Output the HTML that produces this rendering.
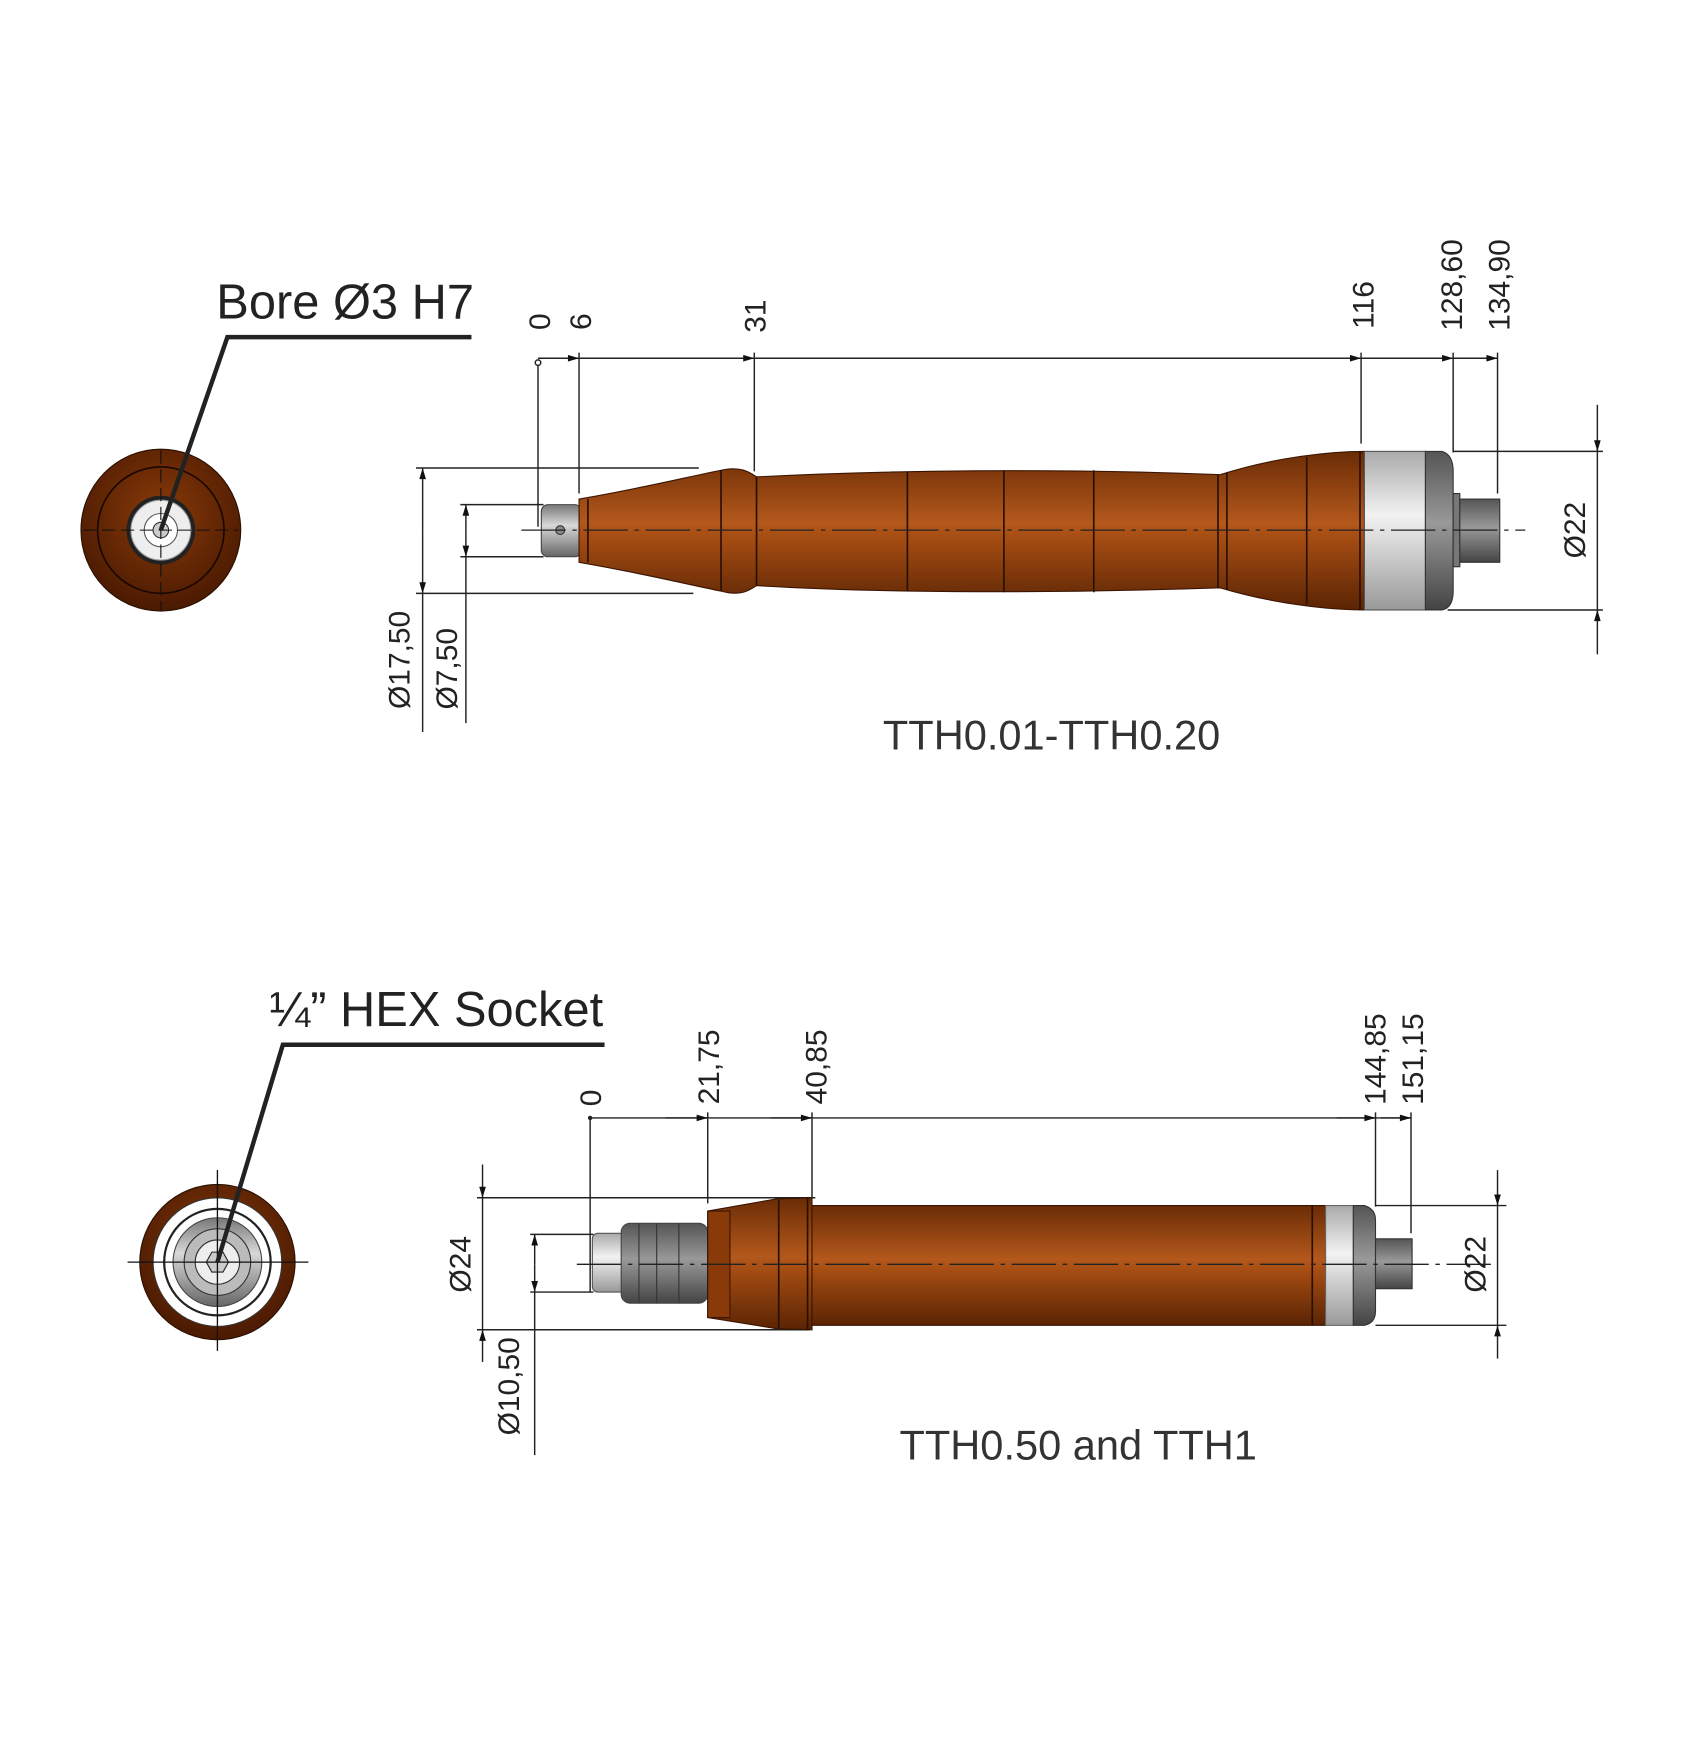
<!DOCTYPE html>
<html><head><meta charset="utf-8"><style>html,body{margin:0;padding:0;background:#fff;}svg{display:block}</style></head>
<body>
<svg width="1685" height="1739" viewBox="0 0 1519 1568" preserveAspectRatio="none" xmlns="http://www.w3.org/2000/svg" font-family="Liberation Sans, sans-serif">
<defs>
<linearGradient id="br" x1="0" y1="0" x2="0" y2="1">
<stop offset="0" stop-color="#6a2c05"/><stop offset="0.45" stop-color="#b4581c"/><stop offset="0.55" stop-color="#a44c12"/><stop offset="1" stop-color="#5a2404"/></linearGradient>
<linearGradient id="gr" x1="0" y1="0" x2="0" y2="1">
<stop offset="0" stop-color="#777"/><stop offset="0.4" stop-color="#d8d8d8"/><stop offset="1" stop-color="#666"/></linearGradient>
<linearGradient id="sv" x1="0" y1="0" x2="0" y2="1">
<stop offset="0" stop-color="#aaa"/><stop offset="0.4" stop-color="#f2f2f2"/><stop offset="1" stop-color="#999"/></linearGradient>
<linearGradient id="dg" x1="0" y1="0" x2="0" y2="1">
<stop offset="0" stop-color="#555"/><stop offset="0.45" stop-color="#999"/><stop offset="1" stop-color="#444"/></linearGradient>
<radialGradient id="rb" cx="0.5" cy="0.4" r="0.6"><stop offset="0" stop-color="#8a3a08"/><stop offset="1" stop-color="#4a1a02"/></radialGradient>
<marker id="a" viewBox="0 0 10 6" refX="10" refY="3" markerWidth="14" markerHeight="6" markerUnits="userSpaceOnUse" orient="auto"><path d="M0,0L10,3L0,6z" fill="#111"/></marker>
</defs>
<g stroke="#222" stroke-width="1.3" fill="none">
<line x1="485" y1="323" x2="1350" y2="323"/>
<line x1="485" y1="323" x2="522" y2="323" marker-end="url(#a)"/>
<line x1="640" y1="323" x2="680" y2="323" marker-end="url(#a)"/>
<line x1="1190" y1="323" x2="1227" y2="323" marker-end="url(#a)"/>
<line x1="1275" y1="323" x2="1310" y2="323" marker-end="url(#a)"/>
<line x1="1320" y1="323" x2="1350" y2="323" marker-end="url(#a)"/>
<path d="M485 325V475M522 318V445M680 318V425M1227 318V400M1310 318V408M1350 318V445"/>
<circle cx="485" cy="327" r="2.5" fill="#fff"/>
<path d="M1310 407H1445M1305 550H1445M375 422H630M375 535H625M415 455H490M415 502H490"/>
<line x1="1440" y1="365" x2="1440" y2="407" marker-end="url(#a)"/>
<line x1="1440" y1="407" x2="1440" y2="550"/>
<line x1="1440" y1="590" x2="1440" y2="550" marker-end="url(#a)"/>
<line x1="381" y1="478" x2="381" y2="422" marker-end="url(#a)"/>
<line x1="381" y1="478" x2="381" y2="535" marker-end="url(#a)"/>
<line x1="381" y1="535" x2="381" y2="660"/>
<line x1="420" y1="478" x2="420" y2="455" marker-end="url(#a)"/>
<line x1="420" y1="478" x2="420" y2="502" marker-end="url(#a)"/>
<line x1="420" y1="502" x2="420" y2="652"/>
</g>
<rect x="488" y="455" width="36" height="47" rx="6" fill="url(#gr)" stroke="#444"/>
<circle cx="505" cy="478" r="4" fill="#888" stroke="#333"/>
<path d="M522 450 C580 440 620 430 650 424 C668 420 676 426 682 430 C800 424 950 422 1100 428 C1150 412 1200 407 1230 407 L1230 550 C1200 550 1150 545 1100 530 C950 535 800 535 682 528 C676 532 668 538 650 533 C620 527 580 517 522 507 Z" fill="url(#br)" stroke="#3a1502"/>
<path d="M530 450V507M650 424V533M682 430V528M818 425V533M905 424V534M986 424V534M1098 428V530M1106 426V532M1178 412V545M1226 407V550" stroke="#2a1000" stroke-width="1.5"/>
<rect x="1230" y="407" width="55" height="143" fill="url(#sv)" stroke="#555"/>
<path d="M1285 407H1300Q1310 410 1310 425V533Q1310 548 1300 550H1285Z" fill="url(#dg)" stroke="#333"/>
<rect x="1310" y="445" width="6" height="66" fill="#777" stroke="#333"/>
<rect x="1316" y="450" width="36" height="57" fill="url(#dg)" stroke="#333"/>
<line x1="470" y1="478" x2="1375" y2="478" stroke="#222" stroke-width="1.2" stroke-dasharray="40,6,4,6"/>
<ellipse cx="145" cy="478" rx="72" ry="73" fill="url(#rb)" stroke="#2a1000"/>
<circle cx="145" cy="478" r="57" fill="none" stroke="#1a0800" stroke-width="1.5"/>
<circle cx="145" cy="478" r="31" fill="#222"/>
<circle cx="145" cy="478" r="27" fill="#eee" stroke="#999"/>
<circle cx="145" cy="478" r="15" fill="#fff" stroke="#555"/>
<circle cx="145" cy="478" r="7" fill="#ccc" stroke="#333"/>
<path d="M75 478H215M145 406V550" stroke="#111" stroke-dasharray="12,5"/>
<path d="M425 304H205L145 478" stroke="#222" stroke-width="4" fill="none"/>
<text x="195" y="287" font-size="44" fill="#222">Bore Ø3 H7</text>
<g font-size="27" fill="#222" text-anchor="middle">
<text transform="translate(496,290) rotate(-90)">0</text>
<text transform="translate(533,290) rotate(-90)">6</text>
<text transform="translate(690,285) rotate(-90)">31</text>
<text transform="translate(1238,275) rotate(-90)">116</text>
<text transform="translate(1318,257) rotate(-90)">128,60</text>
<text transform="translate(1361,257) rotate(-90)">134,90</text>
<text transform="translate(1429,478) rotate(-90)">Ø22</text>
<text transform="translate(369,595) rotate(-90)">Ø17,50</text>
<text transform="translate(412,603) rotate(-90)">Ø7,50</text>
</g>
<text x="948" y="676" font-size="37.5" fill="#333" text-anchor="middle">TTH0.01-TTH0.20</text>

<g stroke="#222" stroke-width="1.3" fill="none">
<line x1="532" y1="1008" x2="1272" y2="1008"/>
<line x1="600" y1="1008" x2="638" y2="1008" marker-end="url(#a)"/>
<line x1="695" y1="1008" x2="732" y2="1008" marker-end="url(#a)"/>
<line x1="1205" y1="1008" x2="1240" y2="1008" marker-end="url(#a)"/>
<line x1="1245" y1="1008" x2="1272" y2="1008" marker-end="url(#a)"/>
<path d="M532 1008V1165M638 1003V1085M732 1003V1080M1240 1003V1088M1272 1003V1112"/>
<path d="M430 1080H735M430 1199H730M478 1113H535M478 1165H535M1240 1087H1358M1240 1195H1358"/>
<line x1="435" y1="1050" x2="435" y2="1080" marker-end="url(#a)"/>
<line x1="435" y1="1080" x2="435" y2="1199"/>
<line x1="435" y1="1228" x2="435" y2="1199" marker-end="url(#a)"/>
<line x1="482" y1="1140" x2="482" y2="1113" marker-end="url(#a)"/>
<line x1="482" y1="1140" x2="482" y2="1165" marker-end="url(#a)"/>
<line x1="482" y1="1165" x2="482" y2="1312"/>
<line x1="1350" y1="1055" x2="1350" y2="1087" marker-end="url(#a)"/>
<line x1="1350" y1="1087" x2="1350" y2="1195"/>
<line x1="1350" y1="1225" x2="1350" y2="1195" marker-end="url(#a)"/>
</g>
<circle cx="532" cy="1008" r="2" fill="#222"/>
<rect x="534" y="1112" width="30" height="53" rx="5" fill="url(#sv)" stroke="#555"/>
<rect x="560" y="1103" width="78" height="72" rx="8" fill="url(#dg)" stroke="#444"/>
<path d="M576 1103V1175M592 1103V1175M612 1103V1175" stroke="#333"/>
<path d="M638 1092L700 1081L732 1080V1199L700 1198L638 1188Z" fill="url(#br)" stroke="#3a1502"/>
<rect x="638" y="1092" width="20" height="96" fill="#8a3a08" stroke="#3a1502"/>
<rect x="732" y="1087" width="463" height="108" fill="url(#br)" stroke="#3a1502"/>
<path d="M702 1082V1198M728 1080V1199M1183 1087V1195" stroke="#2a1000" stroke-width="1.5"/>
<rect x="1195" y="1087" width="25" height="108" fill="url(#sv)" stroke="#666"/>
<path d="M1220 1087H1230Q1240 1090 1240 1100V1182Q1240 1193 1230 1195H1220Z" fill="url(#dg)" stroke="#333"/>
<rect x="1240" y="1117" width="33" height="45" fill="url(#dg)" stroke="#333"/>
<line x1="520" y1="1140" x2="1345" y2="1140" stroke="#222" stroke-width="1.2" stroke-dasharray="40,6,4,6"/>
<circle cx="196" cy="1138" r="70" fill="url(#rb)" stroke="#2a1000"/>
<circle cx="196" cy="1138" r="58" fill="#fff" stroke="#333"/>
<circle cx="196" cy="1138" r="48" fill="#fff" stroke="#222" stroke-width="2"/>
<circle cx="196" cy="1138" r="40" fill="url(#gr)" stroke="#444"/>
<circle cx="196" cy="1138" r="30" fill="#bbb" stroke="#333"/>
<circle cx="196" cy="1138" r="20" fill="#eee" stroke="#333"/>
<polygon points="206,1138 201,1147 191,1147 186,1138 191,1129 201,1129" fill="#ccc" stroke="#222"/>
<path d="M115 1138H278M196 1055V1218" stroke="#111" stroke-width="1.2"/>
<path d="M545 942H255L196 1138" stroke="#222" stroke-width="4" fill="none"/>
<text x="243" y="925" font-size="44" fill="#222">¼” HEX Socket</text>
<g font-size="27" fill="#222" text-anchor="middle">
<text transform="translate(542,990) rotate(-90)">0</text>
<text transform="translate(648,962) rotate(-90)">21,75</text>
<text transform="translate(745,962) rotate(-90)">40,85</text>
<text transform="translate(1249,955) rotate(-90)">144,85</text>
<text transform="translate(1283,955) rotate(-90)">151,15</text>
<text transform="translate(1339,1140) rotate(-90)">Ø22</text>
<text transform="translate(424,1140) rotate(-90)">Ø24</text>
<text transform="translate(468,1250) rotate(-90)">Ø10,50</text>
</g>
<text x="972" y="1316" font-size="37.5" fill="#333" text-anchor="middle">TTH0.50 and TTH1</text>
</svg>
</body></html>
